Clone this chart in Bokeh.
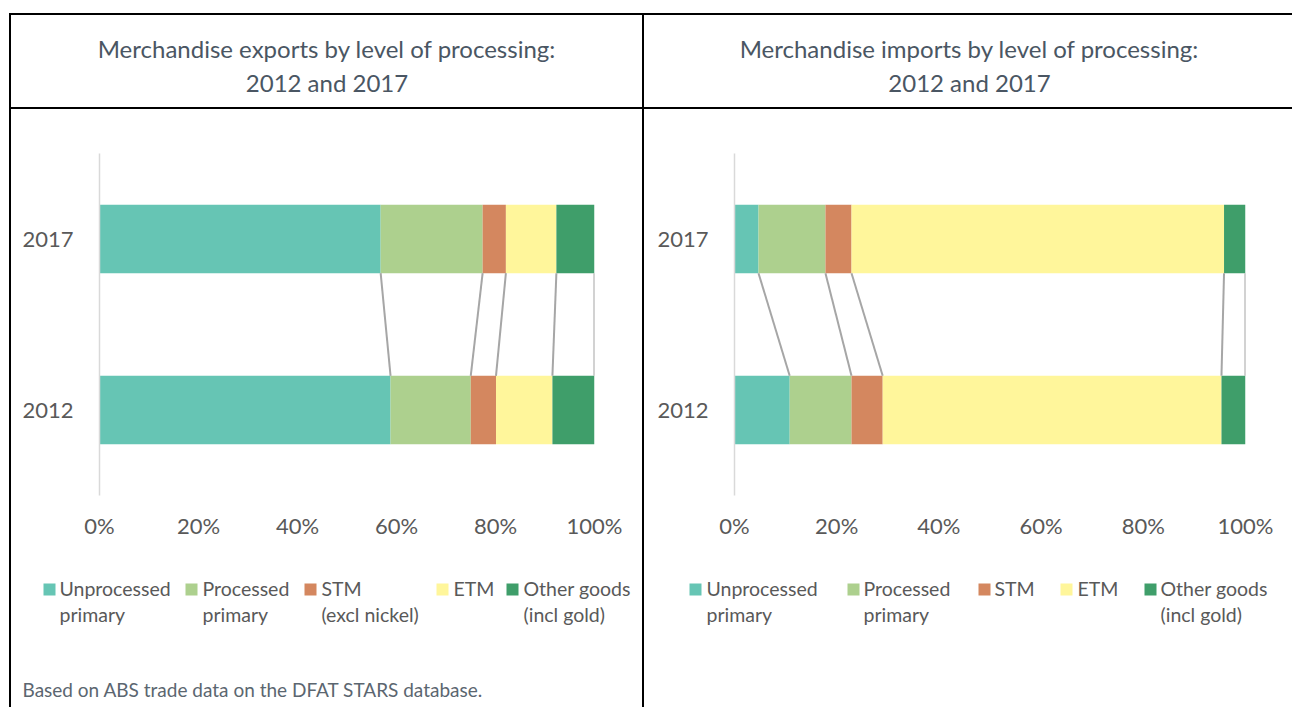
from bokeh.plotting import figure
from bokeh.models import (FactorRange, Range1d, FixedTicker, PrintfTickFormatter,
                          ColumnDataSource, Spacer)
from bokeh.transform import dodge
from bokeh.layouts import row, column
from bokeh.embed import file_html
from bokeh.resources import INLINE
from bokeh.core.properties import value

# ---------------- data ----------------
years = ["2012", "2017"]
series_keys = ["unprocessed", "processed", "stm", "etm", "other"]
exports_2012 = [58.8, 16.2, 5.1, 11.4, 8.5]
exports_2017 = [56.8, 20.6, 4.7, 10.2, 7.7]
imports_2012 = [10.8, 12.1, 6.1, 66.3, 4.7]
imports_2017 = [4.7, 13.1, 5.1, 72.9, 4.2]
colors = ["#66C5B4", "#ADD08E", "#D4875F", "#FFF69B", "#3F9E6A"]
export_legend_1 = ["Unprocessed", "Processed", "STM", "ETM", "Other goods"]
export_legend_2 = ["primary", "primary", "(excl nickel)", "", "(incl gold)"]
import_legend_1 = ["Unprocessed", "Processed", "STM", "ETM", "Other goods"]
import_legend_2 = ["primary", "primary", "", "", "(incl gold)"]
x_ticks = [0, 20, 40, 60, 80, 100]
export_title = ["Merchandise exports by level of processing:", "2012 and 2017"]
import_title = ["Merchandise imports by level of processing:", "2012 and 2017"]
footnote = "Based on ABS trade data on the DFAT STARS database."

FONT = "Lato"
TXT = "#595959"
TITLE_C = "#4A5663"

# ---------------- geometry (page pixels) ----------------
TOP = 13          # top border line
LINE = 2
TITLE_H = 92      # 15..107
CHART_TOP = 109
FRAME_TOP = 153
FRAME_H = 342
CHART_BOTTOM = 570
PAGE_H = 707
ROW_H = PAGE_H - TOP


def black(w, h):
    return Spacer(width=w, height=h, styles={"background-color": "black"})


def plain_fig(x0, x1, y_top, y_bot):
    p = figure(width=x1 - x0, height=y_bot - y_top, x_range=Range1d(x0, x1),
               y_range=Range1d(y_bot, y_top), output_backend="svg",
               toolbar_location=None, x_axis_location=None, y_axis_location=None,
               min_border=0, frame_align=False)
    p.outline_line_color = None
    p.grid.visible = False
    return p


def panel(x0, x1, frame_left, frame_w, v2012, v2017, title, leg1, leg2, sw_x, tx_x,
          title_cx, show_foot):
    w = x1 - x0
    # --- title cell ---
    pt = plain_fig(x0, x1, TOP + LINE, TOP + LINE + TITLE_H)
    pt.text(x=[title_cx, title_cx], y=[48, 82], text=title, text_font=value(FONT),
            text_font_size="24px", text_color=TITLE_C, text_align="center",
            text_baseline="alphabetic")

    # --- chart ---
    mb_left = frame_left - x0
    mb_right = w - mb_left - frame_w
    mb_top = FRAME_TOP - CHART_TOP
    mb_bottom = CHART_BOTTOM - FRAME_TOP - FRAME_H
    p = figure(width=w, height=CHART_BOTTOM - CHART_TOP, y_range=FactorRange(*years),
               x_range=Range1d(0, 100), output_backend="svg", toolbar_location=None,
               min_border_left=mb_left, min_border_right=mb_right,
               min_border_top=mb_top, min_border_bottom=mb_bottom, frame_align=False)
    p.outline_line_color = None
    p.grid.visible = False

    data = {"year": years}
    for k, a, b in zip(series_keys, v2012, v2017):
        data[k] = [a, b]
    src = ColumnDataSource(data)
    p.hbar_stack(series_keys, y="year", height=0.4, color=colors, line_color=None,
                 source=src)

    c12, c17 = [], []
    s12 = s17 = 0
    for a, b in zip(v2012, v2017):
        s12 += a
        s17 += b
        c12.append(s12)
        c17.append(s17)
    seg = ColumnDataSource(dict(x0=c17, x1=c12, top=["2017"] * 5, bot=["2012"] * 5))
    p.segment(x0="x0", x1="x1",
              y0=dodge("top", -0.2, range=p.y_range),
              y1=dodge("bot", 0.2, range=p.y_range),
              line_color="#A6A6A6", line_width=2, source=seg)

    p.xaxis.ticker = FixedTicker(ticks=x_ticks)
    p.xaxis.formatter = PrintfTickFormatter(format="%d%%")
    p.xaxis.axis_line_color = None
    p.xaxis.major_tick_line_color = None
    p.xaxis.minor_tick_line_color = None
    p.xaxis.major_label_standoff = 10
    p.yaxis.axis_line_color = "#D9D9D9"
    p.yaxis.axis_line_width = 1.5
    p.yaxis.major_tick_line_color = None
    p.yaxis.minor_tick_line_color = None
    p.yaxis.major_label_standoff = 20
    for ax in (p.xaxis, p.yaxis):
        ax.major_label_text_font = FONT
        ax.major_label_text_font_size = "22px"
        ax.major_label_text_color = TXT

    # --- legend + footnote ---
    pl = plain_fig(x0, x1, CHART_BOTTOM, PAGE_H)
    pl.quad(left=sw_x, right=[s + 12 for s in sw_x], top=[583] * 5, bottom=[595] * 5,
            color=colors, line_color=None)
    pl.text(x=tx_x, y=[588] * 5, text=leg1, text_font=value(FONT),
            text_font_size="19.5px", text_color=TXT, text_baseline="alphabetic")
    pl.text(x=tx_x, y=[614] * 5, text=leg2, text_font=value(FONT),
            text_font_size="19.5px", text_color=TXT, text_baseline="alphabetic")
    if show_foot:
        pl.text(x=[22], y=[689], text=[footnote], text_font=value(FONT),
                text_font_size="19px", text_color="#5B6670",
                text_baseline="alphabetic")

    return column(black(w, LINE), pt, black(w, LINE), p, pl, spacing=0)


left = panel(11, 642, 99, 495, exports_2012, exports_2017, export_title,
             export_legend_1, export_legend_2,
             [43, 185, 304, 436, 506], [59, 202, 321, 453, 523], 326.5, True)
right = panel(644, 1292, 734, 511, imports_2012, imports_2017, import_title,
              import_legend_1, import_legend_2,
              [689, 847, 978, 1060, 1144], [706, 863, 994, 1077, 1160], 969, False)

layout = column(
    Spacer(width=1292, height=TOP),
    row(Spacer(width=9, height=ROW_H), black(LINE, ROW_H), left,
        black(LINE, ROW_H), right, spacing=0),
    spacing=0)
open("out.html", "w").write(file_html(layout, INLINE))
